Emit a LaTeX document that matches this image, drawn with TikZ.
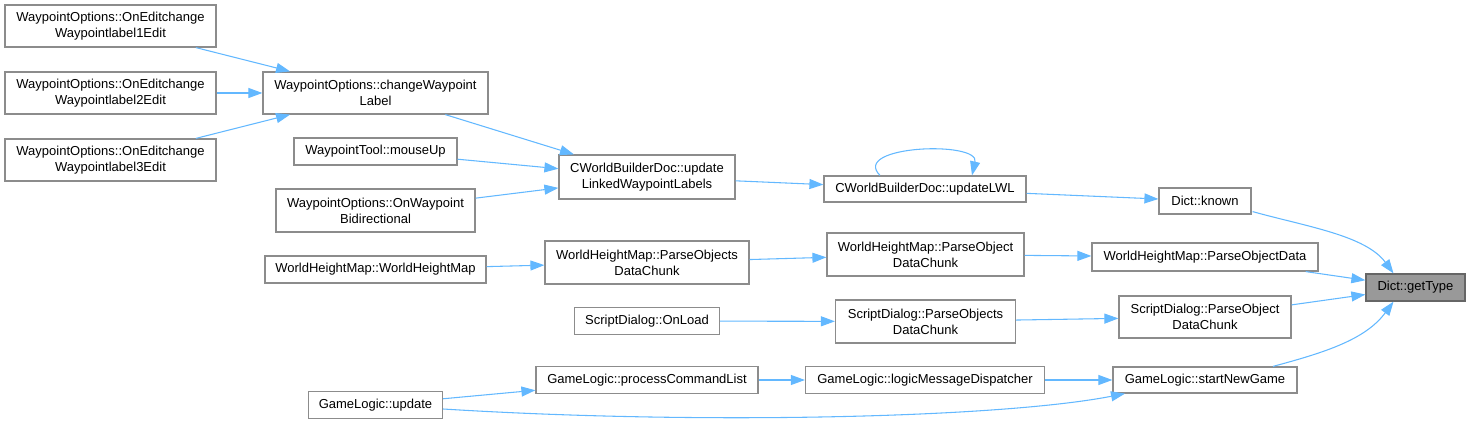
\documentclass[tikz,border=0pt]{standalone}
\usepackage{fontspec}
\setmainfont{Liberation Sans}
\usetikzlibrary{arrows.meta,calc}
\definecolor{edgeblue}{HTML}{63B8FF}
\definecolor{boxborder}{HTML}{8C8C8C}
\definecolor{curfill}{HTML}{999999}
\definecolor{curborder}{HTML}{666666}
\begin{document}
\begin{tikzpicture}[x=0.75pt,y=-0.75pt,
  fn/.style={draw=boxborder,line width=0.9pt,fill=white,inner sep=0pt,align=center,
    font=\fontsize{9.75pt}{12pt}\selectfont},
  cur/.style={fn,draw=curborder,fill=curfill},
  edge/.style={draw=edgeblue,line width=0.8pt,-{Triangle[length=10.5pt,width=7.5pt]}}]
\useasboundingbox (0,0) rectangle (1471,424);
% column 1
\node[fn,minimum width=211*0.75pt,minimum height=42*0.75pt] (a1) at (110.5,26) {WaypointOptions::OnEditchange\\Waypointlabel1Edit};
\node[fn,minimum width=211*0.75pt,minimum height=42*0.75pt] (a2) at (110.5,93) {WaypointOptions::OnEditchange\\Waypointlabel2Edit};
\node[fn,minimum width=211*0.75pt,minimum height=42*0.75pt] (a3) at (110.5,160) {WaypointOptions::OnEditchange\\Waypointlabel3Edit};
% column 2
\node[fn,minimum width=225*0.75pt,minimum height=42*0.75pt] (chwl) at (375.5,93) {WaypointOptions::changeWaypoint\\Label};
\node[fn,minimum width=163*0.75pt,minimum height=27*0.75pt] (mup) at (375.5,151.5) {WaypointTool::mouseUp};
\node[fn,minimum width=199*0.75pt,minimum height=43*0.75pt] (bidir) at (375.5,210.5) {WaypointOptions::OnWaypoint\\Bidirectional};
\node[fn,minimum width=221*0.75pt,minimum height=27*0.75pt] (whmc) at (375.5,269.5) {WorldHeightMap::WorldHeightMap};
\node[fn,minimum width=134*0.75pt,minimum height=27*0.75pt] (gupd) at (375.5,405) {GameLogic::update};
% column 3
\node[fn,minimum width=176*0.75pt,minimum height=44*0.75pt] (upd) at (647,177) {CWorldBuilderDoc::update\\LinkedWaypointLabels};
\node[fn,minimum width=204*0.75pt,minimum height=43*0.75pt] (whmpos) at (647,262.5) {WorldHeightMap::ParseObjects\\DataChunk};
\node[fn,minimum width=145*0.75pt,minimum height=27*0.75pt] (onload) at (647,321) {ScriptDialog::OnLoad};
\node[fn,minimum width=222*0.75pt,minimum height=27*0.75pt] (pcl) at (647,380) {GameLogic::processCommandList};
% column 4
\node[fn,minimum width=202*0.75pt,minimum height=26*0.75pt] (lwl) at (925,189) {CWorldBuilderDoc::updateLWL};
\node[fn,minimum width=197*0.75pt,minimum height=43*0.75pt] (whmpo) at (925.5,254.5) {WorldHeightMap::ParseObject\\DataChunk};
\node[fn,minimum width=180*0.75pt,minimum height=43*0.75pt] (sdpos) at (925.5,321.5) {ScriptDialog::ParseObjects\\DataChunk};
\node[fn,minimum width=239*0.75pt,minimum height=27*0.75pt] (lmd) at (925,380) {GameLogic::logicMessageDispatcher};
% column 5
\node[fn,minimum width=92*0.75pt,minimum height=26*0.75pt] (known) at (1205,201) {Dict::known};
\node[fn,minimum width=226*0.75pt,minimum height=28*0.75pt] (pod) at (1205,257) {WorldHeightMap::ParseObjectData};
\node[fn,minimum width=172*0.75pt,minimum height=42*0.75pt] (sdpo) at (1205,317) {ScriptDialog::ParseObject\\DataChunk};
\node[fn,minimum width=184*0.75pt,minimum height=26*0.75pt] (sng) at (1205,380) {GameLogic::startNewGame};
% target
\node[cur,minimum width=99*0.75pt,minimum height=27*0.75pt] (gt) at (1415.5,287.5) {Dict::getType};
% edges
\draw[edge] (a1) -- (chwl);
\draw[edge] (a2) -- (chwl);
\draw[edge] (a3) -- (chwl);
\draw[edge] (chwl) -- (upd);
\draw[edge] (mup) -- (upd);
\draw[edge] (bidir) -- (upd);
\draw[edge] (upd) -- (lwl);
\draw[edge] ($(lwl.north)+(-45,0)$) .. controls ($(lwl.north)+(-75,-30)$) and ($(lwl.north)+(55,-35)$) .. ($(lwl.north)+(47,0)$);
\draw[edge] (lwl) -- (known);
\draw[edge] ($(known.south east)+(1,-3)$) .. controls ($(known.south east)+(55,12)$) and ($(gt.north)+(-50,-38)$) .. ($(gt.north)+(-22,0)$);
\draw[edge] (whmc) -- (whmpos);
\draw[edge] (whmpos) -- (whmpo);
\draw[edge] (whmpo) -- (pod);
\draw[edge] (pod) -- (gt);
\draw[edge] (onload) -- (sdpos);
\draw[edge] (sdpos) -- (sdpo);
\draw[edge] (sdpo) -- (gt);
\draw[edge] (pcl) -- (lmd);
\draw[edge] (lmd) -- (sng);
\draw[edge] ($(sng.north)+(68,0)$) .. controls ($(sng.north)+(120,-14)$) and ($(gt.south)+(-50,38)$) .. ($(gt.south)+(-22,0)$);
\draw[edge] (gupd) -- (pcl);
\draw[edge] ($(gupd.east)+(0,4)$) .. controls (700,425) and (1000,418) .. ($(sng.south)+(-80,0)$);
\end{tikzpicture}
\end{document}
